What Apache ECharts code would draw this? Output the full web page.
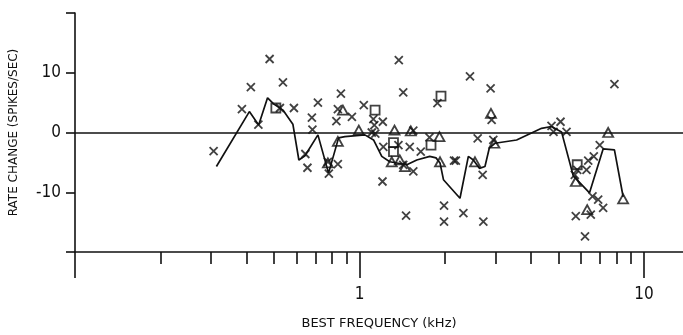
<!DOCTYPE html>
<html>
<head>
<meta charset="utf-8">
<script src="https://cdn.jsdelivr.net/npm/echarts@6/dist/echarts.min.js"></script>
<style>
	html, body { margin: 0; padding: 0; background: #fff; }
	#echarts { width: 683px; height: 335px; }
</style>
</head>
<body>
<div id="echarts"></div>
<script>
	// single units (x marks)
	var crossFreq = [0.307, 0.386, 0.415, 0.483, 0.538, 0.441, 0.525, 0.588, 0.645, 0.656, 0.680, 0.683, 0.714, 0.774, 0.780, 0.839, 0.860, 0.839, 0.829, 0.940,
		1.035, 1.118, 1.207, 1.127, 1.104, 1.136, 1.212, 1.204, 1.370, 1.374, 1.424, 1.501, 1.545, 1.424, 1.545, 1.641, 1.761, 1.878, 2.444, 2.888,
		2.912, 2.601, 2.952, 2.148, 2.180, 2.708, 1.457, 1.981, 1.981, 2.317, 2.723, 4.362, 4.727, 5.085, 4.805, 5.339, 6.985, 6.656, 6.362, 5.821,
		6.275, 5.708, 6.586, 6.896, 7.178, 6.496, 5.754, 6.199, 7.866]
	var crossRate = [-3.1, 3.9, 7.6, 12.3, 8.4, 1.3, 4.1, 4.1, -3.6, -5.9, 2.5, 0.5, 5.0, -4.9, -6.9, -5.3, 6.5, 3.9, 1.9, 2.6,
		4.6, 2.25, 1.8, 1.25, 0, -0.2, -2.4, -8.2, -2.1, 12.1, 6.7, -2.4, 0.3, -5.4, -6.5, -3.2, -0.8, 4.9, 9.4, 7.4,
		2.1, -1.0, -1.25, -4.7, -4.7, -7.1, -13.9, -12.25, -14.9, -13.5, -14.9, -22.9, 1.1, 1.8, 0.1, 0.1, -2.1, -4.0, -4.7, -6.25,
		-6.25, -7.1, -10.7, -11.25, -12.6, -13.75, -14.0, -17.4, 8.1]

	// triangles
	var triFreq = [0.839, 0.874, 0.994, 0.774, 1.327, 1.385, 1.445, 1.298, 1.909, 1.918, 2.545, 2.896, 2.977, 5.754, 6.31, 7.476, 8.44, 1.514]
	var triRate = [-1.5, 3.75, 0.4, -5.1, 0.4, -4.6, -5.7, -4.9, -0.7, -4.9, -4.9, 3.2, -1.8, -8.2, -12.9, 0, -11.1, 0.25]

	// squares
	var sqFreq = [0.508, 1.134, 1.316, 1.316, 1.783, 1.933, 5.821]
	var sqRate = [4.1, 3.75, -1.7, -3.2, -2.1, 6.1, -5.4]

	// running mean
	var meanFreq = [0.314, 0.410, 0.442, 0.475, 0.500, 0.538, 0.583, 0.612, 0.643, 0.714, 0.778, 0.844, 0.888, 1.044, 1.12, 1.197, 1.277, 1.466, 1.589, 1.765,
		1.857, 1.918, 1.972, 2.254, 2.412, 2.512, 2.637, 2.759, 2.858, 2.991, 3.564, 4.362, 4.727, 5.127, 5.636, 6.43, 7.178, 7.866, 8.44]
	var meanRate = [-5.7, 3.5, 1.25, 5.8, 4.75, 3.75, 1.4, -4.6, -3.9, -0.4, -6.8, -0.9, -0.7, -0.4, -1.25, -4.0, -4.9, -5.4, -4.6, -4.0,
		-4.25, -5.1, -7.9, -11.0, -4.0, -4.6, -6.0, -5.7, -2.6, -1.8, -1.25, 0.7, 1.0, 0.1, -7.25, -10.1, -2.75, -2.9, -10.75]

	var minorTicks = [0.2, 0.3, 0.4, 0.5, 0.6, 0.7, 0.8, 0.9, 2, 3, 4, 5, 6, 7, 8, 9]
	var yTickLabels = [-10, 0, 10]

	var xMin = 0.1, xMax = 13.7
	var ink = '#111'
	var numFont = '"Liberation Sans Narrow", "DejaVu Sans Condensed", "DejaVu Sans", sans-serif'

	function pairs(xs, ys) {
		return xs.map(function (x, i) { return [x, ys[i]] })
	}

	var markStyle = { color: 'rgba(0,0,0,0)', borderColor: ink, borderWidth: 1.8 }

	var chart = echarts.init(document.getElementById('echarts'))
	chart.setOption({
		animation: false,
		backgroundColor: '#fff',
		grid: { left: 75, right: 0, top: 13, bottom: 83 },
		xAxis: [{
			type: 'log',
			logBase: 10,
			min: xMin,
			max: xMax,
			position: 'bottom',
			name: 'BEST FREQUENCY (kHz)',
			nameLocation: 'middle',
			nameGap: 65,
			nameTextStyle: { color: ink, fontSize: 13, fontFamily: 'DejaVu Sans' },
			axisLine: { onZero: false, lineStyle: { color: ink, width: 1.6 } },
			axisTick: { length: 26, lineStyle: { color: ink, width: 1.6 } },
			axisLabel: {
				margin: 34,
				color: ink,
				fontSize: 17,
				fontFamily: numFont,
				showMaxLabel: false,
				formatter: function (v) {
					return (Math.abs(v - 1) < 1e-6 || Math.abs(v - 10) < 1e-6) ? String(Math.round(v)) : ''
				}
			},
			splitLine: { show: false }
		}, {
			// minor decade ticks, placed in log10 space
			type: 'value',
			min: -1,
			max: Math.log10(xMax),
			position: 'bottom',
			axisLine: { show: false, onZero: false },
			axisTick: { show: true, length: 12, customValues: minorTicks.map(Math.log10), lineStyle: { color: ink, width: 1.6 } },
			axisLabel: { show: false },
			splitLine: { show: false }
		}],
		yAxis: {
			type: 'value',
			min: -20,
			max: 20,
			interval: 10,
			name: 'RATE CHANGE (SPIKES/SEC)',
			nameLocation: 'middle',
			nameRotate: 90,
			nameGap: 55,
			nameTextStyle: { color: ink, fontSize: 12, fontFamily: 'DejaVu Sans' },
			axisLine: { onZero: false, lineStyle: { color: ink, width: 1.6 } },
			axisTick: { length: 9, lineStyle: { color: ink, width: 1.6 } },
			axisLabel: {
				margin: 14,
				color: ink,
				fontSize: 17,
				fontFamily: numFont,
				formatter: function (v) { return yTickLabels.indexOf(v) >= 0 ? String(v) : '' }
			},
			splitLine: { show: false }
		},
		series: [{
			type: 'line',
			data: pairs(meanFreq, meanRate),
			symbol: 'none',
			lineStyle: { color: ink, width: 1.7 },
			markLine: {
				silent: true,
				symbol: 'none',
				label: { show: false },
				lineStyle: { color: ink, width: 1.6, type: 'solid' },
				data: [{ yAxis: 0 }]
			}
		}, {
			type: 'scatter',
			data: pairs(crossFreq, crossRate),
			symbol: 'path://M0,0L10,10M10,0L0,10',
			symbolSize: 8,
			itemStyle: markStyle
		}, {
			type: 'scatter',
			data: pairs(triFreq, triRate),
			symbol: 'triangle',
			symbolSize: [10, 9],
			itemStyle: markStyle
		}, {
			type: 'scatter',
			data: pairs(sqFreq, sqRate),
			symbol: 'rect',
			symbolSize: 9,
			itemStyle: markStyle
		}]
	})
</script>
</body>
</html>
